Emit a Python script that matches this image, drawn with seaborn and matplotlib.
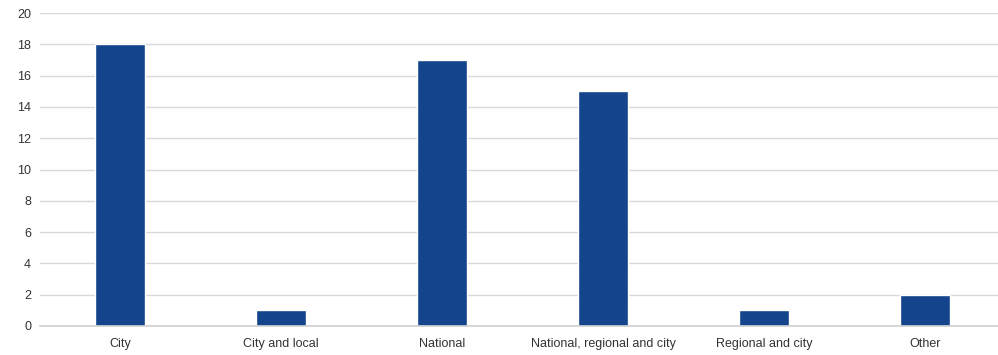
import matplotlib
matplotlib.use("Agg")
import matplotlib.pyplot as plt
import seaborn as sns
import pandas as pd

categories = ["City", "City and local", "National", "National, regional and city",
              "Regional and city", "Other"]
values = [18, 1, 17, 15, 1, 2]
y_ticks = [0, 2, 4, 6, 8, 10, 12, 14, 16, 18, 20]

sns.set_theme(style="white")
plt.rcParams['font.family'] = ['Liberation Sans', 'DejaVu Sans']

df = pd.DataFrame({"category": categories, "value": values})

fig = plt.figure(figsize=(9.98, 3.55), dpi=100)
ax = fig.add_axes([0.0396, 0.082, 0.968, 0.881])
sns.barplot(data=df, x="category", y="value", color="#14448c", width=0.31,
            saturation=1, ax=ax, zorder=3)
ax.set_xlim(-0.5, 5.5)
ax.set_ylim(0, 20)
ax.set_yticks(y_ticks)
ax.set_xlabel("")
ax.set_ylabel("")
ax.yaxis.grid(True, color="#d9d9d9", linewidth=1, zorder=0)
for s in ["left", "right", "top"]:
    ax.spines[s].set_visible(False)
ax.spines["bottom"].set_color("#d0d0d0")
ax.spines["bottom"].set_linewidth(1.2)
ax.spines["bottom"].set_zorder(4)
ax.tick_params(axis="both", length=0, labelsize=9, colors="#333333")
ax.tick_params(axis="y", pad=6)
ax.tick_params(axis="x", pad=9)
fig.savefig("out.png", dpi=100)
